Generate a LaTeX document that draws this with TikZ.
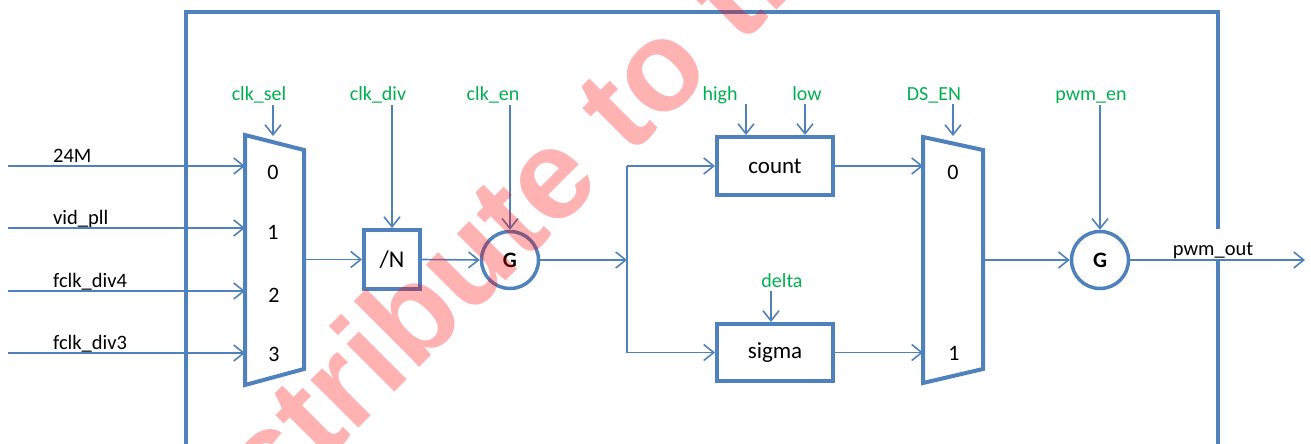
\documentclass[tikz,border=0pt]{standalone}
\usepackage{fontspec}
\setmainfont{Carlito}
\newfontfamily\wmfont{Liberation Sans}
\usetikzlibrary{arrows.meta}
\definecolor{bl}{HTML}{4F81BD}
\definecolor{gr}{HTML}{00B050}
\begin{document}
\begin{tikzpicture}[x=1pt,y=-1pt,
  conn/.style={draw=bl, line width=1.6pt},
  arr/.style={conn, -{Straight Barb[length=10pt,width=16pt]}},
  blk/.style={draw=bl, line width=4pt, fill=white, inner sep=0pt, line join=miter},
  boxtxt/.style={font=\fontsize{23}{24}\selectfont},
  gate/.style={circle, draw=bl, line width=3.5pt, fill=white, minimum size=57pt, inner sep=0pt, font=\fontsize{22}{22}\selectfont\bfseries},
  lbl/.style={font=\fontsize{20.5}{22}\selectfont, inner sep=0pt, anchor=base west},
  glbl/.style={font=\fontsize{20}{22}\selectfont, text=gr, inner sep=0pt, anchor=base},
  num/.style={font=\fontsize{22}{22}\selectfont, inner sep=0pt},
  wm/.style={font=\wmfont\bfseries\fontsize{128}{128}\selectfont, text=red, opacity=0.3, inner sep=0pt, rotate=45}
]
\useasboundingbox (0,0) rectangle (1311,444);
\clip (0,0) rectangle (1311,444);
% outer frame
\draw[bl, line width=4.5pt, line join=miter] (186,480) -- (186,12) -- (1218,12) -- (1218,480);

% mux 1
\draw[blk] (245,135) -- (304,150) -- (304,369) -- (245,385) -- cycle;
\coordinate (m1i0) at (245,166);
\coordinate (m1i1) at (245,228);
\coordinate (m1i2) at (245,291);
\coordinate (m1i3) at (245,353);
\coordinate (m1o) at (304,259.5);
\coordinate (m1s) at (273,136);
\node[num] (m1n0) at (273,172) {0};
\node[num] (m1n1) at (273,232) {1};
\node[num] (m1n2) at (274,295) {2};
\node[num] (m1n3) at (274,354) {3};

% inputs
\coordinate (in0) at (8,166);
\coordinate (in1) at (8,228);
\coordinate (in2) at (8,291);
\coordinate (in3) at (8,353);
\node[lbl] (l0) at (53,162) {24M};
\node[lbl] (l1) at (53,224) {vid\_pll};
\node[lbl] (l2) at (53,287) {fclk\_div4};
\node[lbl] (l3) at (53,349) {fclk\_div3};
\draw[arr] (in0) -- (m1i0);
\draw[arr] (in1) -- (m1i1);
\draw[arr] (in2) -- (m1i2);
\draw[arr] (in3) -- (m1i3);

% divider and gate
\node[blk, boxtxt, minimum width=56pt, minimum height=59pt, font=\fontsize{24}{24}\selectfont] (div) at (392,259.5) {/N};
\node[gate] (g1) at (510,260) {G};
\draw[arr] (m1o) -- (div.west);
\draw[arr] (div.east) -- (g1.west);

% split
\coordinate (hub) at (627,260);
\coordinate (ctop) at (627,166);
\coordinate (cbot) at (627,352.5);
\draw[arr] (g1.east) -- (hub);
\draw[conn] (ctop) -- (cbot);

% count / sigma
\node[blk, boxtxt, minimum width=116pt, minimum height=58pt] (cnt) at (775,166) {count};
\node[blk, boxtxt, minimum width=116pt, minimum height=57pt] (sig) at (775,352.5) {sigma};
\draw[arr] (ctop) -- (cnt.west);
\draw[arr] (cbot) -- (sig.west);

% mux 2
\draw[blk] (923,137) -- (983,150) -- (983,369) -- (923,383) -- cycle;
\coordinate (m2i0) at (923,166);
\coordinate (m2i1) at (923,352.5);
\coordinate (m2o) at (983,260);
\coordinate (m2s) at (953,136);
\node[num] (m2n0) at (953,172) {0};
\node[num] (m2n1) at (954,353) {1};
\draw[arr] (cnt.east) -- (m2i0);
\draw[arr] (sig.east) -- (m2i1);

% output gate
\node[gate] (g2) at (1100,260) {G};
\draw[arr] (m2o) -- (g2.west);
\node[font=\fontsize{20.5}{22}\selectfont, fill=white, inner xsep=2pt, inner ysep=0pt, text height=26pt, text depth=4pt, anchor=base] (lout) at (1213,255) {pwm\_out};
\coordinate (out) at (1305,260);
\draw[arr] (g2.east) -- (out);

% control labels
\node[glbl] (tsel) at (259,100) {clk\_sel};
\node[glbl] (tdiv) at (378,100) {clk\_div};
\node[glbl] (ten) at (493,100) {clk\_en};
\node[glbl] (thigh) at (720,100) {high};
\node[glbl] (tlow) at (807,100) {low};
\node[glbl] (tdelta) at (782,287) {delta};
\node[glbl] (tds) at (934,100) {DS\_EN};
\node[glbl] (tpwm) at (1091,100) {pwm\_en};
\coordinate (ssel) at (273,105);
\coordinate (sdiv) at (392,105);
\coordinate (sen) at (510,105);
\coordinate (shigh) at (746,104);
\coordinate (slow) at (805,104);
\coordinate (sdelta) at (771,291);
\coordinate (sds) at (953,104);
\coordinate (spwm) at (1100,105);
\draw[arr] (ssel) -- (m1s);
\draw[arr] (sdiv) -- (div.north);
\draw[arr] (sen) -- (g1.north);
\draw[arr] (shigh) -- (shigh |- cnt.north);
\draw[arr] (slow) -- (slow |- cnt.north);
\draw[arr] (sdelta) -- (sdelta |- sig.north);
\draw[arr] (sds) -- (m2s);
\draw[arr] (spwm) -- (g2.north);

% watermark
\node[wm, anchor=base east] (wm1) at (715,72) {distribute to};
\node[wm, anchor=base west] (wm2) at (wm1.base east) {\ third party};
\end{tikzpicture}
\end{document}
